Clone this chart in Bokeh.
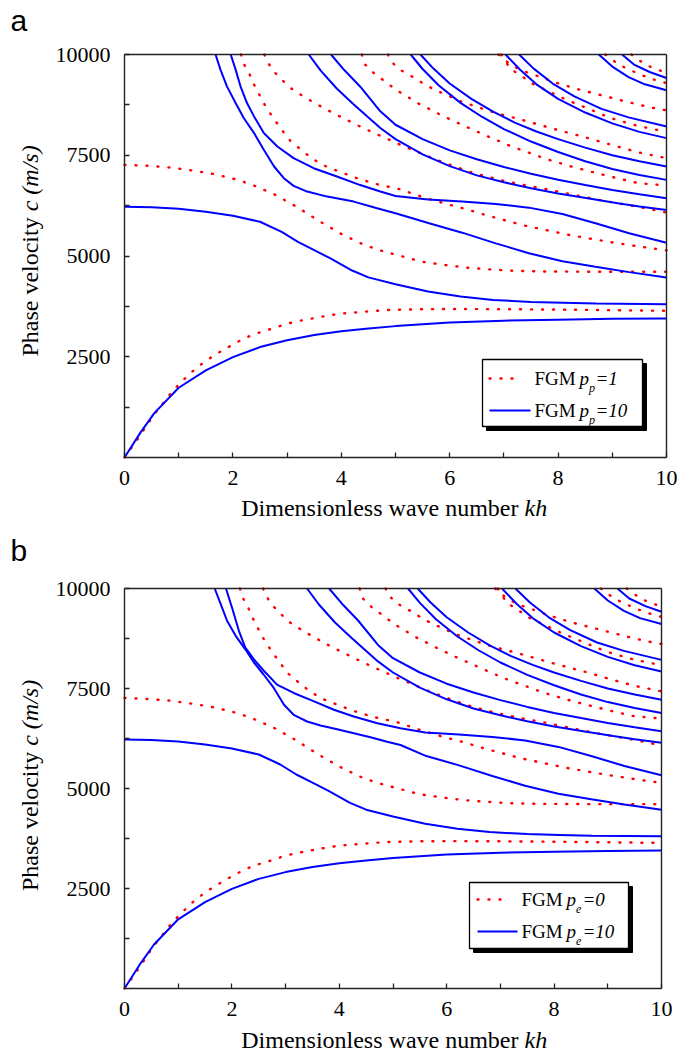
import math
from bokeh.plotting import figure
from bokeh.models import Range1d, FixedTicker, Label, BoxAnnotation, LinearAxis
from bokeh.layouts import column
from bokeh.embed import file_html
from bokeh.resources import INLINE

SERIF = "Liberation Serif"
SANS = "Liberation Sans"
BLUE = "#0000ff"
RED = "#ff0000"
INK = "#222222"

# ---------------- axis ticks ----------------
X_TICKS = [0, 2, 4, 6, 8, 10]
X_MINOR = [1, 3, 5, 7, 9]
Y_TICKS = [2500, 5000, 7500, 10000]
Y_MINOR = [1250, 3750, 6250, 8750]

# ---------------- data ----------------
# blue solid curves (FGM p=10), kh vs phase velocity c (m/s)
blue1_kh = [0, 0.3, 0.55, 1.0, 1.5, 2.0, 2.5, 3.0, 3.5, 4.0, 4.5, 5.0, 6.0, 7.0, 8.0, 9.0, 10.0]
blue1_c = [0, 630, 1100, 1730, 2160, 2490, 2740, 2910, 3040, 3130, 3200, 3260, 3350, 3395, 3420, 3440, 3450]

blue2_kh = [0, 0.5, 1.0, 1.5, 2.0, 2.5, 2.9, 3.2, 3.5, 3.8, 4.2, 4.5, 5.0, 5.6, 6.2, 6.8, 7.5, 8.1, 8.7, 10]
blue2_c = [6225, 6210, 6175, 6100, 6000, 5850, 5600, 5350, 5145, 4940, 4640, 4470, 4300, 4120, 3995, 3910, 3860, 3840, 3820, 3805]

blue3_kh = [1.68, 1.77, 1.89, 2.05, 2.2, 2.39, 2.57, 2.76, 2.94, 3.12, 3.37, 3.74, 4.23, 4.66, 5.0, 5.62, 6.23, 6.85, 7.46, 8.08, 8.69, 9.31, 10]
blue3_c = [10000, 9625, 9210, 8796, 8423, 8050, 7635, 7221, 6930, 6740, 6599, 6474, 6350, 6184, 6060, 5811, 5579, 5314, 5070, 4870, 4733, 4600, 4468]

blue4_kh = [1.96, 2.05, 2.14, 2.26, 2.39, 2.57, 2.82, 3.12, 3.49, 3.92, 4.35, 4.72, 5.0, 5.6, 6.23, 6.85, 7.46, 8.08, 8.69, 9.31, 10]
blue4_c = [10000, 9625, 9210, 8796, 8464, 8050, 7718, 7428, 7179, 6972, 6760, 6600, 6490, 6400, 6350, 6290, 6200, 6040, 5811, 5563, 5330]

blue5_kh = [3.40, 3.62, 3.92, 4.23, 4.72, 5.0, 5.5, 6.0, 6.5, 7.0, 7.5, 8.0, 8.6, 9.1, 9.5, 10]
blue5_c = [10000, 9600, 9150, 8760, 8177, 7900, 7520, 7230, 7000, 6830, 6680, 6550, 6420, 6310, 6230, 6143]

blue6_kh = [3.81, 4.05, 4.35, 4.72, 5.0, 5.5, 6.0, 6.5, 7.0, 7.5, 8.0, 8.5, 9.0, 9.5, 10]
blue6_c = [10000, 9620, 9200, 8590, 8257, 7900, 7620, 7400, 7210, 7040, 6890, 6760, 6640, 6530, 6433]

blue7_kh = [5.28, 5.5, 5.8, 6.2, 6.6, 7.0, 7.5, 8.0, 8.5, 9.0, 9.5, 10]
blue7_c = [10000, 9640, 9230, 8800, 8450, 8150, 7840, 7580, 7350, 7160, 7010, 6889]

blue8_kh = [5.46, 5.7, 6.0, 6.4, 6.8, 7.2, 7.6, 8.0, 8.5, 9.0, 9.5, 10]
blue8_c = [10000, 9650, 9280, 8900, 8580, 8310, 8090, 7900, 7690, 7500, 7350, 7221]

blue9_kh = [7.03, 7.3, 7.6, 8.0, 8.5, 9.0, 9.5, 10]
blue9_c = [10000, 9620, 9260, 8900, 8560, 8290, 8080, 7925]

blue10_kh = [7.28, 7.55, 7.9, 8.3, 8.8, 9.3, 10]
blue10_c = [10000, 9650, 9280, 8960, 8650, 8440, 8215]

blue11_kh = [8.75, 9.0, 9.3, 9.6, 10]
blue11_c = [10000, 9700, 9440, 9260, 9111]

blue12_kh = [9.18, 9.4, 9.7, 10]
blue12_c = [10000, 9750, 9560, 9418]

# red dotted curves (FGM p=1 / p=0)
red1_kh = [0, 0.16, 0.3, 0.43, 0.57, 0.73, 0.9, 1.08, 1.29, 1.49, 1.71, 1.91, 2.11, 2.32, 2.56, 2.77, 2.97, 3.17, 3.38, 3.59, 3.79, 3.99, 4.4, 4.85, 5.5, 6.0, 7.0, 8.0, 9.0, 10.0]
red1_c = [0, 300, 570, 840, 1110, 1380, 1670, 1915, 2180, 2390, 2580, 2735, 2885, 3020, 3135, 3215, 3310, 3375, 3430, 3480, 3530, 3570, 3615, 3660, 3680, 3685, 3680, 3670, 3655, 3640]

red2_kh = [0, 0.44, 0.84, 1.25, 1.66, 2.07, 2.36, 2.76, 3.17, 3.59, 3.99, 4.4, 4.69, 5.08, 5.49, 5.92, 6.32, 6.74, 7.16, 7.64, 8.7, 10]
red2_c = [7262, 7237, 7196, 7121, 7030, 6897, 6765, 6533, 6226, 5869, 5554, 5289, 5148, 5007, 4858, 4775, 4709, 4667, 4634, 4618, 4609, 4609]

red3_kh = [2.15, 2.2, 2.31, 2.4, 2.51, 2.62, 2.76, 2.9, 3.06, 3.28, 3.47, 3.68, 3.88, 4.09, 4.29, 4.66, 5.08, 5.48, 5.89, 6.29, 6.7, 7.39, 7.8, 8.21, 8.63, 9.03, 9.52, 10]
red3_c = [10000, 9774, 9500, 9227, 8945, 8671, 8398, 8132, 7859, 7610, 7411, 7245, 7138, 7030, 6930, 6781, 6657, 6474, 6309, 6168, 6002, 5753, 5637, 5521, 5422, 5331, 5231, 5140]

red4_kh = [2.58, 2.61, 2.71, 2.9, 3.09, 3.3, 3.51, 3.71, 3.91, 4.12, 4.32, 4.65, 4.86, 5.06, 5.68, 6.09, 6.49, 6.98, 7.39, 7.8, 8.21, 8.63, 9.03, 9.52, 10]
red4_c = [10000, 9915, 9641, 9376, 9144, 8962, 8796, 8647, 8506, 8365, 8232, 8025, 7900, 7776, 7428, 7221, 7038, 6872, 6756, 6657, 6540, 6425, 6325, 6209, 6077]

red5_kh = [4.38, 4.42, 4.61, 4.83, 5.02, 5.23, 5.43, 5.65, 5.84, 6.05, 6.26, 6.46, 6.75, 6.97, 7.17, 7.37, 7.77, 8.2, 8.6, 9.09, 9.49, 10]
red5_c = [10000, 9774, 9525, 9310, 9111, 8945, 8779, 8630, 8497, 8365, 8232, 8116, 7942, 7817, 7701, 7610, 7411, 7237, 7096, 6930, 6806, 6750]

red6_kh = [4.86, 4.91, 5.1, 5.32, 5.53, 5.74, 5.94, 6.15, 6.75, 7.37, 7.98, 8.6, 9.09, 9.49, 10]
red6_c = [10000, 9832, 9610, 9442, 9268, 9111, 9003, 8862, 8589, 8365, 8132, 7909, 7718, 7569, 7428]

red7_kh = [6.95, 7.12, 7.32, 7.5, 7.72, 8.15, 8.57, 8.97, 9.46, 10]
red7_c = [10000, 9641, 9476, 9293, 9152, 8879, 8647, 8423, 8232, 8080]

red8_kh = [6.9, 7.12, 7.32, 7.72, 7.94, 8.35, 8.76, 9.24, 9.67, 10]
red8_c = [10000, 9750, 9610, 9418, 9310, 9144, 9003, 8837, 8696, 8614]

red9_kh = [8.87, 9.12, 9.34, 9.52, 9.73, 10]
red9_c = [10000, 9749, 9608, 9500, 9393, 9290]

red10_kh = [9.35, 9.61, 9.83, 10]
red10_c = [10000, 9749, 9625, 9550]

# ---------------- panel (b) differences (modes 3 and 4 nearly touch) ----------------
blue3b_kh = [1.68, 1.79, 1.91, 2.07, 2.25, 2.41, 2.59, 2.78, 2.97, 3.15, 3.4, 3.65, 3.96, 4.27, 4.58, 4.89, 5.14, 5.62, 6.23, 6.85, 7.46, 8.08, 8.69, 9.31, 10]
blue3b_c = [10000, 9613, 9194, 8816, 8480, 8150, 7850, 7514, 7095, 6843, 6675, 6574, 6482, 6381, 6280, 6171, 6087, 5811, 5579, 5314, 5070, 4870, 4733, 4600, 4468]

blue4b_kh = [1.89, 2.0, 2.13, 2.25, 2.41, 2.59, 2.84, 3.15, 3.53, 3.9, 4.27, 4.71, 5.14, 5.6, 6.23, 6.85, 7.46, 8.08, 8.69, 9.31, 10]
blue4b_c = [10000, 9529, 8942, 8520, 8230, 7950, 7598, 7388, 7179, 6969, 6801, 6633, 6507, 6400, 6350, 6290, 6200, 6040, 5811, 5563, 5330]

BLUE_A = [(blue1_kh, blue1_c), (blue2_kh, blue2_c), (blue3_kh, blue3_c), (blue4_kh, blue4_c),
          (blue5_kh, blue5_c), (blue6_kh, blue6_c), (blue7_kh, blue7_c), (blue8_kh, blue8_c),
          (blue9_kh, blue9_c), (blue10_kh, blue10_c), (blue11_kh, blue11_c), (blue12_kh, blue12_c)]
BLUE_B = [(blue1_kh, blue1_c), (blue2_kh, blue2_c), (blue3b_kh, blue3b_c), (blue4b_kh, blue4b_c),
          (blue5_kh, blue5_c), (blue6_kh, blue6_c), (blue7_kh, blue7_c), (blue8_kh, blue8_c),
          (blue9_kh, blue9_c), (blue10_kh, blue10_c), (blue11_kh, blue11_c), (blue12_kh, blue12_c)]
RED_ALL = [(red1_kh, red1_c), (red2_kh, red2_c), (red3_kh, red3_c), (red4_kh, red4_c),
           (red5_kh, red5_c), (red6_kh, red6_c), (red7_kh, red7_c), (red8_kh, red8_c),
           (red9_kh, red9_c), (red10_kh, red10_c)]

# ---------------- layout: page pixel geometry ----------------
# L, T, W, H: plot box in page pixels; ctop/CH: page top and height of the figure canvas
CW = 686
GA = dict(L=124, T=54, W=542, H=403, ctop=0, CH=522)
GB = dict(L=124, T=588, W=537, H=400, ctop=522, CH=533)


def px2x(px, g):
    return (px - g["L"]) / g["W"] * 10.0


def py2y(py, g):
    return (g["T"] + g["H"] - py) / g["H"] * 10000.0


def txt(p, g, px, py, text, size, style="normal", align="left", angle=0.0, font=SERIF):
    # py is the vertical middle of the text line
    p.add_layout(Label(x=px2x(px, g), y=py2y(py, g), text=text, text_font=font,
                       text_font_size=f"{size}px", text_font_style=style,
                       text_align=align, text_baseline="middle", angle=angle,
                       text_color="black"))


def txt_rot(p, g, px, py, text, size, style="normal", align="left"):
    # rotated (reading upwards); px is the middle of the text line
    p.add_layout(Label(x=px2x(px, g), y=py2y(py, g), text=text, text_font=SERIF,
                       text_font_size=f"{size}px", text_font_style=style,
                       text_align=align, text_baseline="middle", angle=math.pi / 2,
                       text_color="black"))


def style_axis(ax):
    ax.axis_line_color = INK
    ax.axis_line_width = 1.4
    ax.major_tick_in = 5
    ax.major_tick_out = 0
    ax.minor_tick_in = 5
    ax.minor_tick_out = 0
    ax.major_tick_line_color = INK
    ax.minor_tick_line_color = INK
    ax.major_tick_line_width = 1.3
    ax.minor_tick_line_width = 1.3
    ax.major_label_text_font = SERIF
    ax.major_label_text_font_size = "22px"
    ax.major_label_text_color = "black"
    return ax


def make_panel(g, blues, letter, letter_py, sub, red_txt, blue_txt, leg, ytitle_c, xtitle_mid):
    x0 = px2x(0, g)
    x1 = px2x(CW, g)
    y1 = py2y(g["ctop"], g)
    y0 = py2y(g["ctop"] + g["CH"], g)
    p = figure(width=CW, height=g["CH"], x_range=Range1d(x0, x1), y_range=Range1d(y0, y1),
               x_axis_location=None, y_axis_location=None, min_border=0,
               output_backend="svg", toolbar_location=None,
               background_fill_color="white", border_fill_color="white")
    p.title.visible = False
    p.outline_line_color = None
    p.xgrid.visible = False
    p.ygrid.visible = False
    p.xgrid.grid_line_color = None
    p.ygrid.grid_line_color = None

    # library axes fixed on the plot box edges
    xax = style_axis(LinearAxis(fixed_location=0, bounds=(0, 10),
                                ticker=FixedTicker(ticks=X_TICKS, minor_ticks=X_MINOR)))
    xax.major_label_standoff = 13
    p.add_layout(xax, "below")
    yax = style_axis(LinearAxis(fixed_location=0, bounds=(0, 10000),
                                ticker=FixedTicker(ticks=Y_TICKS, minor_ticks=Y_MINOR)))
    yax.major_label_standoff = 14
    p.add_layout(yax, "left")
    top = style_axis(LinearAxis(fixed_location=10000, bounds=(0, 10),
                                ticker=FixedTicker(ticks=[], minor_ticks=[])))
    p.add_layout(top, "above")
    right = style_axis(LinearAxis(fixed_location=10, bounds=(0, 10000),
                                  ticker=FixedTicker(ticks=[], minor_ticks=[])))
    p.add_layout(right, "right")

    # legend frame + shadow (underlay, so the sample lines sit on top)
    bl, br, bt, bb = leg["box"]
    p.add_layout(BoxAnnotation(left=px2x(bl + 4, g), right=px2x(br + 4, g),
                               top=py2y(bt + 4, g), bottom=py2y(bb + 4, g),
                               fill_color="black", fill_alpha=1.0, line_color="black",
                               line_alpha=1.0, level="underlay"))
    p.add_layout(BoxAnnotation(left=px2x(bl, g), right=px2x(br, g),
                               top=py2y(bt, g), bottom=py2y(bb, g),
                               fill_color="white", fill_alpha=1.0, line_color="black",
                               line_alpha=1.0, line_width=1.3, level="underlay"))

    for kh, c in RED_ALL:
        p.line(kh, c, line_color=RED, line_width=2.4, line_dash="1 10", line_cap="round")
    for kh, c in blues:
        p.line(kh, c, line_color=BLUE, line_width=2)

    # legend samples and texts
    sx0, sx1 = leg["sample_x"]
    ry, by = leg["sample_y"]
    p.line([px2x(sx0, g), px2x(sx0 + 33, g)], [py2y(ry, g), py2y(ry, g)],
           line_color=RED, line_width=2.4, line_dash="1 10", line_cap="round")
    p.line([px2x(sx0, g), px2x(sx1, g)], [py2y(by, g), py2y(by, g)],
           line_color=BLUE, line_width=2)
    tx = leg["text_x"]
    for mid, val in ((ry, red_txt), (by, blue_txt)):
        txt(p, g, tx, mid, "FGM", 19)
        txt(p, g, tx + 45, mid, "p", 19, style="italic")
        txt(p, g, tx + 54.5, mid + 9, sub, 12, style="italic")
        txt(p, g, tx + 61, mid, val, 19, style="italic")

    # axis titles (mixed upright / italic)
    txt_rot(p, g, 29, ytitle_c + 105.6 - 139.3, "Phase velocity", 24, align="right")
    txt_rot(p, g, 29, ytitle_c + 105.6 - 145.3, "c (m/s)", 24, style="italic", align="left")
    txt(p, g, 518, xtitle_mid, "Dimensionless wave number", 24, align="right")
    txt(p, g, 524, xtitle_mid, "kh", 24, style="italic", align="left")

    # panel letter
    txt(p, g, 10, letter_py, letter, 30, font=SANS)
    return p


pa = make_panel(GA, BLUE_A, "a", 20, "p", "=1", "=10",
                dict(box=(482, 642, 359, 426), sample_x=(489, 530), sample_y=(378, 410),
                     text_x=534),
                250.5, 507)
pb = make_panel(GB, BLUE_B, "b", 550, "e", "=0", "=10",
                dict(box=(469, 628, 882, 948), sample_x=(477, 517), sample_y=(899, 931),
                     text_x=521),
                785.0, 1039)

layout = column(pa, pb)
open("out.html", "w").write(file_html(layout, INLINE))
